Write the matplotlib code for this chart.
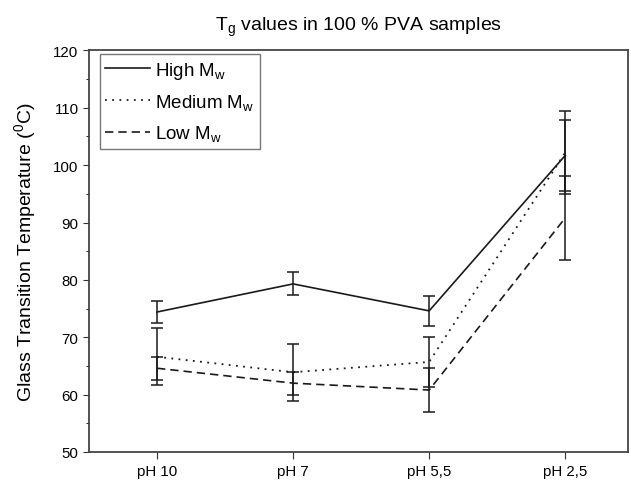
import numpy as np
import matplotlib.pyplot as plt
from matplotlib.ticker import MultipleLocator

plt.rcParams['font.family'] = ['Liberation Sans', 'DejaVu Sans']
plt.rcParams['mathtext.fontset'] = 'custom'
plt.rcParams['mathtext.rm'] = 'Liberation Sans'
plt.rcParams['mathtext.it'] = 'Liberation Sans'

ph_labels = ['pH 10', 'pH 7', 'pH 5,5', 'pH 2,5']

high_tg = [74.4, 79.3, 74.6, 101.7]
high_err = [2.0, 2.0, 2.6, 6.2]

medium_tg = [66.6, 63.9, 65.7, 102.2]
medium_err = [5.0, 5.0, 4.4, 7.3]

low_tg = [64.6, 62.0, 60.8, 90.8]
low_err = [2.0, 2.0, 3.9, 7.3]

x = np.arange(1, len(ph_labels) + 1)

fig = plt.figure(figsize=(6.31, 4.85), dpi=100)
ax = fig.add_axes([0.141, 0.066, 0.854, 0.828])

col = '#1a1a1a'
ax.errorbar(x, high_tg, yerr=high_err, color=col, lw=1.2, capsize=4.3,
            elinewidth=1.1, capthick=1.1, label=r'High M$_{\rm w}$')
ax.errorbar(x, medium_tg, yerr=medium_err, color=col, lw=1.3, ls=(0, (1, 3)),
            capsize=4.3, elinewidth=1.1, capthick=1.1, label=r'Medium M$_{\rm w}$')
ax.errorbar(x, low_tg, yerr=low_err, color=col, lw=1.2, ls=(0, (5, 3)),
            capsize=4.3, elinewidth=1.1, capthick=1.1, label=r'Low M$_{\rm w}$')

ax.set_xlim(0.5, 4.46)
ax.set_ylim(50, 120)
ax.set_xticks(x)
ax.set_xticklabels(ph_labels)
ax.yaxis.set_major_locator(MultipleLocator(10))
ax.yaxis.set_minor_locator(MultipleLocator(5))
ax.tick_params(axis='both', direction='out', labelsize=10.8, color='#333333')
ax.tick_params(axis='y', which='major', length=4)
ax.tick_params(axis='y', which='minor', length=2.5)
ax.tick_params(axis='x', length=5)

for s in ax.spines.values():
    s.set_linewidth(1.3)
    s.set_color('#444444')

ax.set_title(r'T$_{\rm g}$ values in 100 % PVA samples', fontsize=14, pad=15)
ax.set_ylabel(r'Glass Transition Temperature ($^{\rm 0}$C)', fontsize=14, labelpad=11)

handles, labels = ax.get_legend_handles_labels()
handles = [h[0] for h in handles]
leg = ax.legend(handles, labels, loc='upper left', bbox_to_anchor=(0.02, 0.991),
                fontsize=13.5, frameon=True, fancybox=False, edgecolor='#555555',
                handlelength=2.4, borderaxespad=0, labelspacing=0.6,
                handletextpad=0.25, borderpad=0.3)
leg.get_frame().set_linewidth(1.0)

fig.savefig('out.png', dpi=100)
